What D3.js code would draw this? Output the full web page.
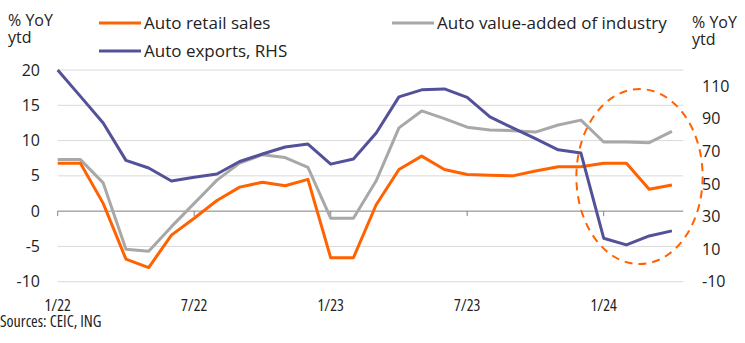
<!DOCTYPE html>
<html>
<head>
<meta charset="utf-8">
<script src="https://cdn.jsdelivr.net/npm/d3@7"></script>
<style>
  body { margin: 0; background: #fff; }
  text { font-family: "Open Sans", sans-serif; fill: #222; }
  .narrow { font-family: "Open Sans", sans-serif; font-stretch: 75%; }
</style>
</head>
<body>
<div id="chart"></div>
<script>
const ORANGE = "#ff6200";
const PURPLE = "#525199";
const GREY = "#a8a8a8";

// monthly, ytd growth
const months = [
  "2022-01", "2022-02", "2022-03", "2022-04", "2022-05", "2022-06",
  "2022-07", "2022-08", "2022-09", "2022-10", "2022-11", "2022-12",
  "2023-01", "2023-02", "2023-03", "2023-04", "2023-05", "2023-06",
  "2023-07", "2023-08", "2023-09", "2023-10", "2023-11", "2023-12",
  "2024-01", "2024-02", "2024-03", "2024-04"
];
const retailSales = [6.8, 6.8, 1.1, -6.8, -8.0, -3.4, -1.0, 1.5, 3.4, 4.1, 3.6, 4.5,
  -6.6, -6.6, 0.9, 5.9, 7.8, 5.9, 5.2, 5.1, 5.0, 5.7, 6.3, 6.3, 6.8, 6.8, 3.1, 3.7];
const valueAdded = [7.3, 7.3, 4.0, -5.4, -5.7, -2.2, 1.1, 4.4, 6.8, 8.0, 7.6, 6.2,
  -1.0, -1.0, 4.3, 11.8, 14.2, 13.1, 11.9, 11.5, 11.4, 11.2, 12.2, 12.9, 9.8, 9.8, 9.7, 11.3];
const exportsRhs = [120, 103.8, 87.5, 64.5, 59.8, 51.8, 54.2, 56.1, 63.8, 68.4, 72.7, 74.5,
  62.2, 65.3, 81.3, 103.5, 107.8, 108.4, 103.2, 91.2, 84.4, 77.8, 71.0, 69.0, 16.7, 12.6, 18.1, 21.2];

const xTickMonths = ["2022-01", "2022-07", "2023-01", "2023-07", "2024-01"];
const xTickLabels = ["1/22", "7/22", "1/23", "7/23", "1/24"];
const leftTicks = [-10, -5, 0, 5, 10, 15, 20];
const rightTicks = [-10, 10, 30, 50, 70, 90, 110];

// highlighted region (month index / left-axis units)
const circleX = [22.8, 28.35];
const circleY = [-7.5, 17.3];

const W = 745, H = 343;
const svg = d3.select("#chart").append("svg")
  .attr("width", W)
  .attr("height", H);

const x = d3.scaleLinear().domain([0, months.length - 0.5]).range([57.7, 683.3]);
const yL = d3.scaleLinear().domain([-10, 20]).range([281.7, 70]);
const yR = d3.scaleLinear().domain([-10, 120]).range([281.7, 70]);

// gridlines
svg.append("g")
  .selectAll("line")
  .data(leftTicks.filter(d => d !== 0))
  .join("line")
  .attr("x1", x.range()[0])
  .attr("x2", x.range()[1])
  .attr("y1", d => yL(d))
  .attr("y2", d => yL(d))
  .attr("stroke", "#d9d9d9")
  .attr("stroke-width", 1);

// zero axis with ticks
svg.append("line")
  .attr("x1", x.range()[0])
  .attr("x2", x.range()[1])
  .attr("y1", yL(0))
  .attr("y2", yL(0))
  .attr("stroke", "#7f7f7f")
  .attr("stroke-width", 1);

svg.append("g")
  .selectAll("line")
  .data(xTickMonths)
  .join("line")
  .attr("x1", d => x(months.indexOf(d)))
  .attr("x2", d => x(months.indexOf(d)))
  .attr("y1", yL(0))
  .attr("y2", yL(0) + 5)
  .attr("stroke", "#7f7f7f");

// axis labels
svg.append("g")
  .selectAll("text")
  .data(leftTicks)
  .join("text")
  .attr("x", 40)
  .attr("y", d => yL(d))
  .attr("dy", "0.35em")
  .attr("text-anchor", "end")
  .style("font-size", "16px")
  .text(d => d);

svg.append("g")
  .selectAll("text")
  .data(rightTicks)
  .join("text")
  .attr("x", 702)
  .attr("y", d => yR(d))
  .attr("dy", "0.35em")
  .style("font-size", "16px")
  .text(d => d);

svg.append("g")
  .selectAll("text")
  .data(xTickMonths)
  .join("text")
  .attr("class", "narrow")
  .attr("x", d => x(months.indexOf(d)))
  .attr("y", 311)
  .attr("text-anchor", "middle")
  .style("font-size", "16px")
  .text((d, i) => xTickLabels[i]);

// series
const line = (yScale) => d3.line()
  .x((d, i) => x(i))
  .y(d => yScale(d));

const series = [
  { values: valueAdded, scale: yL, color: GREY },
  { values: retailSales, scale: yL, color: ORANGE },
  { values: exportsRhs, scale: yR, color: PURPLE },
];

svg.append("g")
  .selectAll("path")
  .data(series)
  .join("path")
  .attr("d", s => line(s.scale)(s.values))
  .attr("fill", "none")
  .attr("stroke", s => s.color)
  .attr("stroke-width", 3)
  .attr("stroke-linejoin", "round");

// dashed circle highlight
svg.append("ellipse")
  .attr("cx", (x(circleX[0]) + x(circleX[1])) / 2)
  .attr("cy", (yL(circleY[0]) + yL(circleY[1])) / 2)
  .attr("rx", (x(circleX[1]) - x(circleX[0])) / 2)
  .attr("ry", (yL(circleY[0]) - yL(circleY[1])) / 2)
  .attr("fill", "none")
  .attr("stroke", ORANGE)
  .attr("stroke-width", 2)
  .attr("stroke-dasharray", "8,6");

// axis titles
const title = (xPos, yPos) => {
  svg.append("text").attr("x", xPos).attr("y", yPos)
    .style("font-size", "16px").text("% YoY");
  svg.append("text").attr("x", xPos).attr("y", yPos + 17)
    .style("font-size", "16px").text("ytd");
};
title(8, 26);
title(692, 28);

// legend
const legend = [
  { label: "Auto retail sales", color: ORANGE, x: 99, y: 23 },
  { label: "Auto exports, RHS", color: PURPLE, x: 99, y: 51 },
  { label: "Auto value-added of industry", color: GREY, x: 392, y: 23 },
];
let lg = svg.append("g")
  .selectAll("g")
  .data(legend)
  .join("g")
  .attr("transform", d => `translate(${d.x},${d.y})`);
lg.append("line")
  .attr("x1", 0)
  .attr("x2", 42)
  .attr("stroke", d => d.color)
  .attr("stroke-width", 3);
lg.append("text")
  .attr("x", 45)
  .attr("dy", "0.35em")
  .style("font-size", "17px")
  .text(d => d.label);

svg.append("text")
  .attr("class", "narrow")
  .attr("x", 0)
  .attr("y", 327)
  .style("font-size", "16px")
  .text("Sources: CEIC, ING");
</script>
</body>
</html>
